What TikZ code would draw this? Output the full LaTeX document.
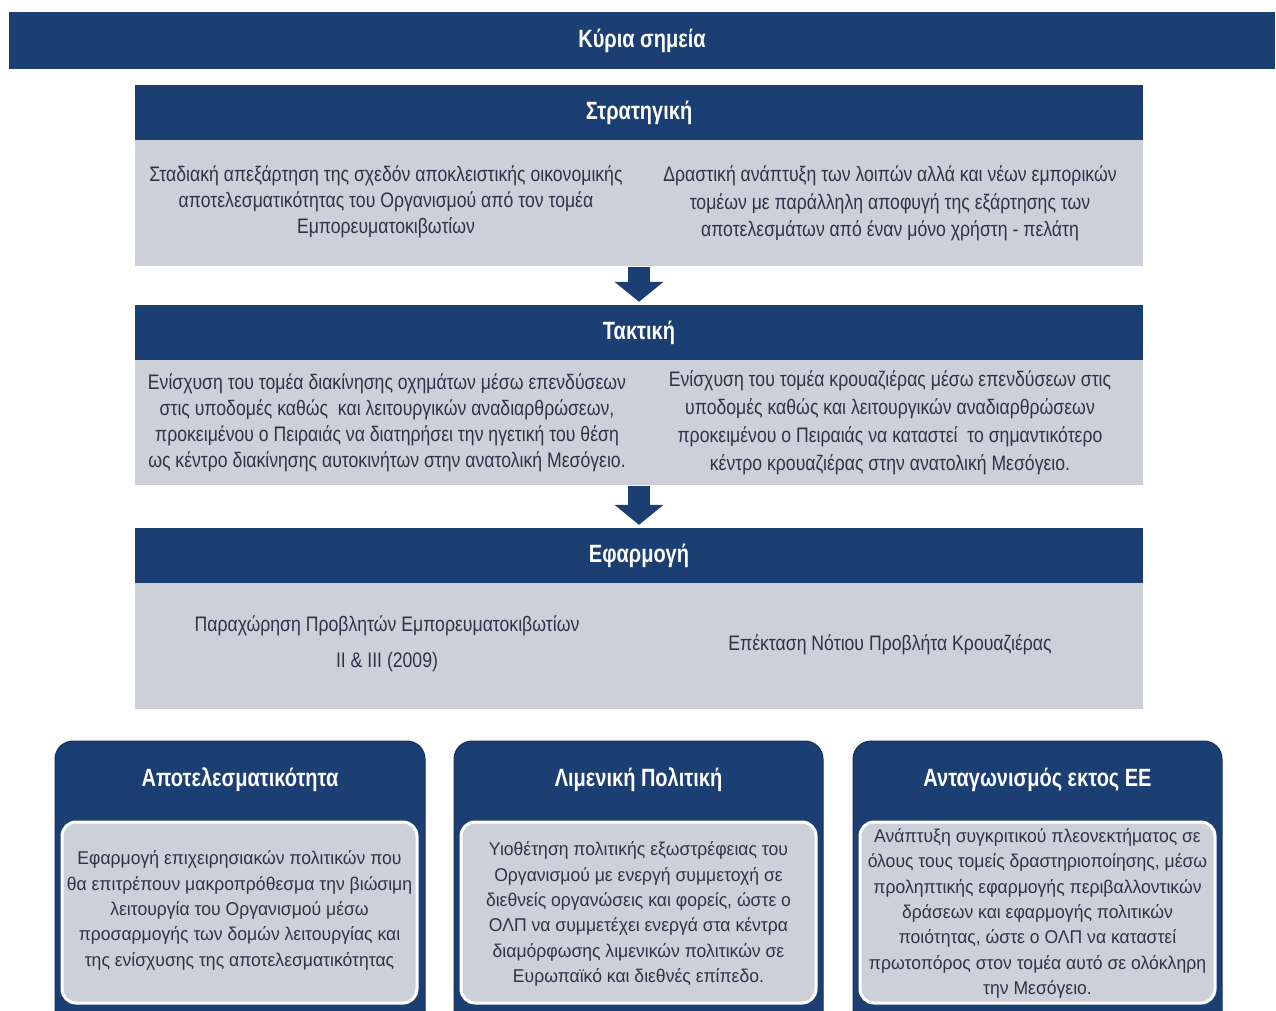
\documentclass[tikz,border=0pt]{standalone}
\usepackage{fontspec}
\setmainfont{Liberation Sans}
\newfontfamily\narrowfont[FakeStretch=0.84]{Liberation Sans}
\newfontfamily\headfont[FakeStretch=0.8]{Liberation Sans}
\newfontfamily\cardfont[FakeStretch=0.95]{Liberation Sans}
\usetikzlibrary{arrows.meta}
\definecolor{navy}{HTML}{1B3F72}
\definecolor{navyedge}{HTML}{14305A}
\definecolor{panel}{HTML}{CDD0D8}
\definecolor{ink}{HTML}{30324A}
\tikzset{
  hdr/.style={fill=navy, text=white, inner sep=0pt,
    font=\headfont\bfseries\fontsize{25}{30}\selectfont},
  panelbox/.style={fill=panel, inner sep=0pt},
  txt/.style={align=center, text=ink, inner sep=0pt,
    font=\narrowfont\fontsize{21}{26}\selectfont},
  boxtitle/.style={text=white, inner sep=0pt,
    font=\headfont\bfseries\fontsize{25}{30}\selectfont},
  boxtxt/.style={align=center, text=ink, inner sep=0pt,
    font=\cardfont\fontsize{18.5}{25.3}\selectfont},
  card/.style={fill=navy, draw=navyedge, line width=1pt, rounded corners=18pt},
  cardbody/.style={fill=panel, draw=white, line width=3pt, rounded corners=14pt},
  downarrow/.style={fill=navy, draw=navy, line width=22pt, shorten >=3pt,
    -{Triangle[width=48pt,length=20pt]}},
}
\begin{document}
\begin{tikzpicture}[x=1pt,y=-1pt]
\useasboundingbox (0,0) rectangle (1276,1010);
\clip (0,0) rectangle (1276,1010);

% title bar
\node[hdr, minimum width=1266pt, minimum height=57pt] (title) at (642,40.5) {Κύρια σημεία};

% strategy block
\node[hdr, minimum width=1008pt, minimum height=55pt] (strat) at (639,112.5) {Στρατηγική};
\node[panelbox, minimum width=1008pt, minimum height=126pt, anchor=north] (stratbody) at (strat.south) {};
\node[txt] (s1) at (386,202) {Σταδιακή απεξάρτηση της σχεδόν αποκλειστικής οικονομικής\\αποτελεσματικότητας του Οργανισμού από τον τομέα\\Εμπορευματοκιβωτίων};
\node[txt, font=\narrowfont\fontsize{21}{27.5}\selectfont] (s2) at (890,203.5) {Δραστική ανάπτυξη των λοιπών αλλά και νέων εμπορικών\\τομέων με παράλληλη αποφυγή της εξάρτησης των\\αποτελεσμάτων από έναν μόνο χρήστη - πελάτη};

% tactics block
\node[hdr, minimum width=1008pt, minimum height=55pt] (tact) at (639,332.5) {Τακτική};
\node[panelbox, minimum width=1008pt, minimum height=125pt, anchor=north] (tactbody) at (tact.south) {};
\node[txt] (t1) at (387,422.5) {Ενίσχυση του τομέα διακίνησης οχημάτων μέσω επενδύσεων\\στις υποδομές καθώς \ και λειτουργικών αναδιαρθρώσεων,\\προκειμένου ο Πειραιάς να διατηρήσει την ηγετική του θέση\\ως κέντρο διακίνησης αυτοκινήτων στην ανατολική Μεσόγειο.};
\node[txt, font=\narrowfont\fontsize{21}{28}\selectfont] (t2) at (890,423) {Ενίσχυση του τομέα κρουαζιέρας μέσω επενδύσεων στις\\υποδομές καθώς και λειτουργικών αναδιαρθρώσεων\\προκειμένου ο Πειραιάς να καταστεί \ το σημαντικότερο\\κέντρο κρουαζιέρας στην ανατολική Μεσόγειο.};

% implementation block
\node[hdr, minimum width=1008pt, minimum height=55pt] (impl) at (639,555.5) {Εφαρμογή};
\node[panelbox, minimum width=1008pt, minimum height=126pt, anchor=north] (implbody) at (impl.south) {};
\node[txt, font=\narrowfont\fontsize{21}{36}\selectfont] (i1) at (387,644) {Παραχώρηση Προβλητών Εμπορευματοκιβωτίων\\II \& III (2009)};
\node[txt] (i2) at (890,645) {Επέκταση Νότιου Προβλήτα Κρουαζιέρας};

% flow arrows
\draw[downarrow] (stratbody.south) -- (tact.north);
\draw[downarrow] (tactbody.south) -- (impl.north);

% bottom cards
\draw[card] (55,741) rectangle (425,1040);
\draw[card] (454,741) rectangle (823,1040);
\draw[card] (853,741) rectangle (1222,1040);
\node[boxtitle] (c1) at (240,780) {Αποτελεσματικότητα};
\node[boxtitle] (c2) at (638.5,780) {Λιμενική Πολιτική};
\node[boxtitle] (c3) at (1037.5,780) {Ανταγωνισμός εκτος ΕΕ};
\draw[cardbody] (62,822) rectangle (417,1003);
\draw[cardbody] (461,822) rectangle (816,1003);
\draw[cardbody] (860,822) rectangle (1215,1003);
\node[boxtxt] (b1) at (239.5,910.5) {Εφαρμογή επιχειρησιακών πολιτικών που\\θα επιτρέπουν μακροπρόθεσμα την βιώσιμη\\λειτουργία του Οργανισμού μέσω\\προσαρμογής των δομών λειτουργίας και\\της ενίσχυσης της αποτελεσματικότητας};
\node[boxtxt] (b2) at (638.5,914) {Υιοθέτηση πολιτικής εξωστρέφειας του\\Οργανισμού με ενεργή συμμετοχή σε\\διεθνείς οργανώσεις και φορείς, ώστε ο\\ΟΛΠ να συμμετέχει ενεργά στα κέντρα\\διαμόρφωσης λιμενικών πολιτικών σε\\Ευρωπαϊκό και διεθνές επίπεδο.};
\node[boxtxt] (b3) at (1037.5,913.5) {Ανάπτυξη συγκριτικού πλεονεκτήματος σε\\όλους τους τομείς δραστηριοποίησης, μέσω\\προληπτικής εφαρμογής περιβαλλοντικών\\δράσεων και εφαρμογής πολιτικών\\ποιότητας, ώστε ο ΟΛΠ να καταστεί\\πρωτοπόρος στον τομέα αυτό σε ολόκληρη\\την Μεσόγειο.};
\end{tikzpicture}
\end{document}
